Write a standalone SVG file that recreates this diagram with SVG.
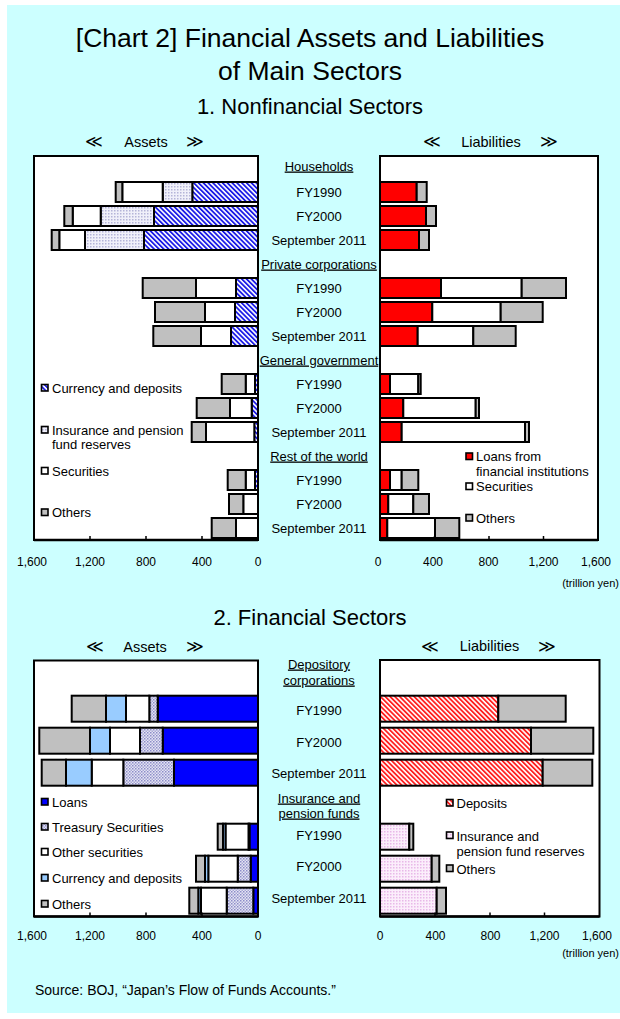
<svg xmlns="http://www.w3.org/2000/svg" width="620" height="1019" viewBox="0 0 620 1019">
<defs>
<style>
text{font-family:"Liberation Sans","DejaVu Sans",Arial,sans-serif;fill:#000}
.ttl{font-size:26.5px;text-anchor:middle}
.sec{font-size:22px;text-anchor:middle}
.ah{font-size:14.5px;text-anchor:middle}
.ch{font-size:17px;text-anchor:middle;font-family:"DejaVu Sans",sans-serif}
.lbl{font-size:13px;text-anchor:middle}
.hdr{font-size:13px;text-anchor:middle;text-decoration:underline}
.leg{font-size:13px}
.ax{font-size:12px;text-anchor:middle}
.unit{font-size:11px;text-anchor:end}
.src{font-size:14px}
.box{fill:#fff;stroke:#000;stroke-width:2}
.bars rect{stroke:#000;stroke-width:2}
.mk{stroke:#000;stroke-width:1.6}
.axis{stroke:#000;stroke-width:2.5;fill:none}
.tick{stroke:#000;stroke-width:1.5}
</style>
<pattern id="bh" patternUnits="userSpaceOnUse" width="3.4" height="3.4" patternTransform="rotate(-45)">
<rect width="3.4" height="3.4" fill="#fff"/><rect width="1.8" height="3.4" fill="#1a1ae6"/>
</pattern>
<pattern id="rh" patternUnits="userSpaceOnUse" width="3.4" height="3.4" patternTransform="rotate(-45)">
<rect width="3.4" height="3.4" fill="#fff"/><rect width="1.8" height="3.4" fill="#ff2020"/>
</pattern>
<pattern id="lav" patternUnits="userSpaceOnUse" width="3" height="3">
<rect width="3" height="3" fill="#f0f0fa"/><rect width="1.5" height="1.5" fill="#b4b4d8"/>
</pattern>
<pattern id="tre" patternUnits="userSpaceOnUse" width="3" height="3">
<rect width="3" height="3" fill="#e4e4f4"/><rect width="1.5" height="1.5" fill="#8c8cc8"/><rect x="1.5" y="1.5" width="1.5" height="1.5" fill="#a8a8d4"/>
</pattern>
<pattern id="pnk" patternUnits="userSpaceOnUse" width="3" height="3">
<rect width="3" height="3" fill="#fbeefb"/><rect width="1.5" height="1.5" fill="#e8b8e8"/>
</pattern>
</defs>

<rect x="7" y="5" width="613" height="1008" fill="#ccffff"/>

<g id="title">
<text class="ttl" x="310" y="47">[Chart 2] Financial Assets and Liabilities</text>
<text class="ttl" x="310" y="80">of Main Sectors</text>
<text class="sec" x="310" y="114">1. Nonfinancial Sectors</text>
<text class="sec" x="310" y="625">2. Financial Sectors</text>
</g>

<g id="chart1-heads">
<text class="ch" x="94" y="147">≪</text><text class="ah" x="146" y="146.5">Assets</text><text class="ch" x="195" y="147">≫</text>
<text class="ch" x="432" y="147">≪</text><text class="ah" x="491" y="146.5">Liabilities</text><text class="ch" x="549" y="147">≫</text>
</g>

<g id="chart1-assets">
<rect class="box" x="34" y="156" width="224" height="384"/>
<g class="bars">
<rect x="192.3" y="182" width="65.7" height="20" fill="url(#bh)"/>
<rect x="162.7" y="182" width="29.6" height="20" fill="url(#lav)"/>
<rect x="122.3" y="182" width="40.4" height="20" fill="#fff"/>
<rect x="115.7" y="182" width="6.6" height="20" fill="#c0c0c0"/>

<rect x="154" y="206" width="104" height="20" fill="url(#bh)"/>
<rect x="100.7" y="206" width="53.3" height="20" fill="url(#lav)"/>
<rect x="72.7" y="206" width="28" height="20" fill="#fff"/>
<rect x="64.3" y="206" width="8.4" height="20" fill="#c0c0c0"/>

<rect x="144" y="230" width="114" height="20" fill="url(#bh)"/>
<rect x="85" y="230" width="59" height="20" fill="url(#lav)"/>
<rect x="59.3" y="230" width="25.7" height="20" fill="#fff"/>
<rect x="51.7" y="230" width="7.6" height="20" fill="#c0c0c0"/>

<rect x="236" y="278" width="22" height="20" fill="url(#bh)"/>
<rect x="196" y="278" width="40" height="20" fill="#fff"/>
<rect x="142.7" y="278" width="53.3" height="20" fill="#c0c0c0"/>

<rect x="235" y="302" width="23" height="20" fill="url(#bh)"/>
<rect x="205" y="302" width="30" height="20" fill="#fff"/>
<rect x="155" y="302" width="50" height="20" fill="#c0c0c0"/>

<rect x="231" y="326" width="27" height="20" fill="url(#bh)"/>
<rect x="201" y="326" width="30" height="20" fill="#fff"/>
<rect x="153.3" y="326" width="47.7" height="20" fill="#c0c0c0"/>

<rect x="255" y="374" width="3" height="20" fill="url(#bh)"/>
<rect x="245.7" y="374" width="9.3" height="20" fill="#fff"/>
<rect x="221.7" y="374" width="24" height="20" fill="#c0c0c0"/>

<rect x="251.7" y="398" width="6.3" height="20" fill="url(#bh)"/>
<rect x="230" y="398" width="21.7" height="20" fill="#fff"/>
<rect x="196.7" y="398" width="33.3" height="20" fill="#c0c0c0"/>

<rect x="254.3" y="422" width="3.7" height="20" fill="url(#bh)"/>
<rect x="206" y="422" width="48.3" height="20" fill="#fff"/>
<rect x="191.7" y="422" width="14.3" height="20" fill="#c0c0c0"/>

<rect x="255" y="470" width="3" height="20" fill="url(#bh)"/>
<rect x="245.7" y="470" width="9.3" height="20" fill="#fff"/>
<rect x="227.7" y="470" width="18" height="20" fill="#c0c0c0"/>

<rect x="243.3" y="494" width="14.7" height="20" fill="#fff"/>
<rect x="229" y="494" width="14.3" height="20" fill="#c0c0c0"/>

<rect x="236" y="518" width="22" height="20" fill="#fff"/>
<rect x="211.7" y="518" width="24.3" height="20" fill="#c0c0c0"/>
</g>
<line class="axis" x1="34" y1="540" x2="258" y2="540"/>
<line class="tick" x1="90" y1="540" x2="90" y2="536"/>
<line class="tick" x1="146" y1="540" x2="146" y2="536"/>
<line class="tick" x1="202" y1="540" x2="202" y2="536"/>
<text class="ax" x="32" y="566">1,600</text>
<text class="ax" x="90" y="566">1,200</text>
<text class="ax" x="146" y="566">800</text>
<text class="ax" x="202" y="566">400</text>
<text class="ax" x="258" y="566">0</text>
</g>

<g id="chart1-assets-legend">
<rect class="mk" x="41.5" y="384.5" width="6.5" height="6.5" fill="url(#bh)"/>
<text class="leg" x="52" y="392.5">Currency and deposits</text>
<rect class="mk" x="41.5" y="426.5" width="6.5" height="6.5" fill="url(#lav)"/>
<text class="leg" x="52" y="434.5">Insurance and pension</text>
<text class="leg" x="52" y="449">fund reserves</text>
<rect class="mk" x="41.5" y="467.5" width="6.5" height="6.5" fill="#fff"/>
<text class="leg" x="52" y="475.5">Securities</text>
<rect class="mk" x="41.5" y="509" width="6.5" height="6.5" fill="#c0c0c0"/>
<text class="leg" x="52" y="517">Others</text>
</g>

<g id="chart1-categories">
<text class="hdr" x="319" y="170.5">Households</text>
<text class="lbl" x="319" y="196.5">FY1990</text>
<text class="lbl" x="319" y="220.5">FY2000</text>
<text class="lbl" x="319" y="244.5">September 2011</text>
<text class="hdr" x="319" y="268.5">Private corporations</text>
<text class="lbl" x="319" y="292.5">FY1990</text>
<text class="lbl" x="319" y="316.5">FY2000</text>
<text class="lbl" x="319" y="340.5">September 2011</text>
<text class="hdr" x="319" y="364.5">General government</text>
<text class="lbl" x="319" y="388.5">FY1990</text>
<text class="lbl" x="319" y="412.5">FY2000</text>
<text class="lbl" x="319" y="436.5">September 2011</text>
<text class="hdr" x="319" y="460.5">Rest of the world</text>
<text class="lbl" x="319" y="484.5">FY1990</text>
<text class="lbl" x="319" y="508.5">FY2000</text>
<text class="lbl" x="319" y="532.5">September 2011</text>
</g>

<g id="chart1-liabilities">
<rect class="box" x="380" y="156" width="218" height="384"/>
<g class="bars">
<rect x="380" y="182" width="36.7" height="20" fill="#ff0000"/>
<rect x="416.7" y="182" width="10" height="20" fill="#c0c0c0"/>
<rect x="380" y="206" width="46" height="20" fill="#ff0000"/>
<rect x="426" y="206" width="10" height="20" fill="#c0c0c0"/>
<rect x="380" y="230" width="39" height="20" fill="#ff0000"/>
<rect x="419" y="230" width="10" height="20" fill="#c0c0c0"/>

<rect x="380" y="278" width="61" height="20" fill="#ff0000"/>
<rect x="441" y="278" width="80.7" height="20" fill="#fff"/>
<rect x="521.7" y="278" width="44.3" height="20" fill="#c0c0c0"/>
<rect x="380" y="302" width="52.3" height="20" fill="#ff0000"/>
<rect x="432.3" y="302" width="68.4" height="20" fill="#fff"/>
<rect x="500.7" y="302" width="42" height="20" fill="#c0c0c0"/>
<rect x="380" y="326" width="37.7" height="20" fill="#ff0000"/>
<rect x="417.7" y="326" width="55.6" height="20" fill="#fff"/>
<rect x="473.3" y="326" width="42.4" height="20" fill="#c0c0c0"/>

<rect x="380" y="374" width="10" height="20" fill="#ff0000"/>
<rect x="390" y="374" width="28.3" height="20" fill="#fff"/>
<rect x="418.3" y="374" width="2.4" height="20" fill="#c0c0c0"/>
<rect x="380" y="398" width="23.3" height="20" fill="#ff0000"/>
<rect x="403.3" y="398" width="72.4" height="20" fill="#fff"/>
<rect x="475.7" y="398" width="3.3" height="20" fill="#c0c0c0"/>
<rect x="380" y="422" width="21.7" height="20" fill="#ff0000"/>
<rect x="401.7" y="422" width="123.3" height="20" fill="#fff"/>
<rect x="525" y="422" width="4" height="20" fill="#c0c0c0"/>

<rect x="380" y="470" width="10" height="20" fill="#ff0000"/>
<rect x="390" y="470" width="11.7" height="20" fill="#fff"/>
<rect x="401.7" y="470" width="16.6" height="20" fill="#c0c0c0"/>
<rect x="380" y="494" width="8.3" height="20" fill="#ff0000"/>
<rect x="388.3" y="494" width="25" height="20" fill="#fff"/>
<rect x="413.3" y="494" width="15.7" height="20" fill="#c0c0c0"/>
<rect x="380" y="518" width="7.3" height="20" fill="#ff0000"/>
<rect x="387.3" y="518" width="47.7" height="20" fill="#fff"/>
<rect x="435" y="518" width="24.3" height="20" fill="#c0c0c0"/>
</g>
<line class="axis" x1="380" y1="540" x2="598" y2="540"/>
<line class="tick" x1="434.5" y1="540" x2="434.5" y2="536"/>
<line class="tick" x1="489" y1="540" x2="489" y2="536"/>
<line class="tick" x1="543.5" y1="540" x2="543.5" y2="536"/>
<text class="ax" x="378" y="566">0</text>
<text class="ax" x="433" y="566">400</text>
<text class="ax" x="488.5" y="566">800</text>
<text class="ax" x="543.5" y="566">1,200</text>
<text class="ax" x="596" y="566">1,600</text>
<text class="unit" x="619" y="587">(trillion yen)</text>
</g>

<g id="chart1-liabilities-legend">
<rect class="mk" x="466" y="453" width="6.5" height="6.5" fill="#ff0000"/>
<text class="leg" x="476" y="461">Loans from</text>
<text class="leg" x="476" y="476">financial institutions</text>
<rect class="mk" x="466" y="483" width="6.5" height="6.5" fill="#fff"/>
<text class="leg" x="476" y="491">Securities</text>
<rect class="mk" x="466" y="514.5" width="6.5" height="6.5" fill="#c0c0c0"/>
<text class="leg" x="476" y="522.5">Others</text>
</g>

<g id="chart2-heads">
<text class="ch" x="95" y="652">≪</text><text class="ah" x="145" y="651.5">Assets</text><text class="ch" x="195" y="652">≫</text>
<text class="ch" x="430" y="651.5">≪</text><text class="ah" x="489.5" y="651">Liabilities</text><text class="ch" x="547" y="651.5">≫</text>
</g>

<g id="chart2-assets">
<rect class="box" x="34" y="660.5" width="224" height="256"/>
<g class="bars">
<rect x="157.7" y="695.7" width="100.3" height="26" fill="#0000ff"/>
<rect x="149.3" y="695.7" width="8.4" height="26" fill="url(#tre)"/>
<rect x="126" y="695.7" width="23.3" height="26" fill="#fff"/>
<rect x="106" y="695.7" width="20" height="26" fill="#99ccff"/>
<rect x="71.7" y="695.7" width="34.3" height="26" fill="#c0c0c0"/>

<rect x="162.7" y="727.7" width="95.3" height="26" fill="#0000ff"/>
<rect x="140" y="727.7" width="22.7" height="26" fill="url(#tre)"/>
<rect x="110" y="727.7" width="30" height="26" fill="#fff"/>
<rect x="90" y="727.7" width="20" height="26" fill="#99ccff"/>
<rect x="39.3" y="727.7" width="50.7" height="26" fill="#c0c0c0"/>

<rect x="174" y="759.7" width="84" height="26" fill="#0000ff"/>
<rect x="123.3" y="759.7" width="50.7" height="26" fill="url(#tre)"/>
<rect x="91.7" y="759.7" width="31.6" height="26" fill="#fff"/>
<rect x="66" y="759.7" width="25.7" height="26" fill="#99ccff"/>
<rect x="41.7" y="759.7" width="24.3" height="26" fill="#c0c0c0"/>

<rect x="249.5" y="823.7" width="8.5" height="26" fill="#0000ff"/>
<rect x="248.5" y="823.7" width="1" height="26" fill="url(#tre)"/>
<rect x="225.5" y="823.7" width="23" height="26" fill="#fff"/>
<rect x="223" y="823.7" width="2.5" height="26" fill="#99ccff"/>
<rect x="217.7" y="823.7" width="5.3" height="26" fill="#c0c0c0"/>

<rect x="250.7" y="855.7" width="7.3" height="26" fill="#0000ff"/>
<rect x="237.7" y="855.7" width="13" height="26" fill="url(#tre)"/>
<rect x="208.3" y="855.7" width="29.4" height="26" fill="#fff"/>
<rect x="205" y="855.7" width="3.3" height="26" fill="#99ccff"/>
<rect x="196" y="855.7" width="9" height="26" fill="#c0c0c0"/>

<rect x="253.3" y="887.7" width="4.7" height="26" fill="#0000ff"/>
<rect x="226.7" y="887.7" width="26.6" height="26" fill="url(#tre)"/>
<rect x="201" y="887.7" width="25.7" height="26" fill="#fff"/>
<rect x="198.3" y="887.7" width="2.7" height="26" fill="#99ccff"/>
<rect x="189.3" y="887.7" width="9" height="26" fill="#c0c0c0"/>
</g>
<line class="axis" x1="34" y1="916.5" x2="258" y2="916.5"/>
<line class="tick" x1="90" y1="916.5" x2="90" y2="912.5"/>
<line class="tick" x1="146" y1="916.5" x2="146" y2="912.5"/>
<line class="tick" x1="202" y1="916.5" x2="202" y2="912.5"/>
<text class="ax" x="32" y="940">1,600</text>
<text class="ax" x="90" y="940">1,200</text>
<text class="ax" x="146" y="940">800</text>
<text class="ax" x="202" y="940">400</text>
<text class="ax" x="258" y="940">0</text>
</g>

<g id="chart2-assets-legend">
<rect class="mk" x="41.5" y="798.5" width="6.5" height="6.5" fill="#0000ff"/>
<text class="leg" x="52" y="807">Loans</text>
<rect class="mk" x="41.5" y="823.5" width="6.5" height="6.5" fill="url(#tre)"/>
<text class="leg" x="52" y="832">Treasury Securities</text>
<rect class="mk" x="41.5" y="848.5" width="6.5" height="6.5" fill="#fff"/>
<text class="leg" x="52" y="857">Other securities</text>
<rect class="mk" x="41.5" y="874.5" width="6.5" height="6.5" fill="#99ccff"/>
<text class="leg" x="52" y="883">Currency and deposits</text>
<rect class="mk" x="41.5" y="900.5" width="6.5" height="6.5" fill="#c0c0c0"/>
<text class="leg" x="52" y="908.5">Others</text>
</g>

<g id="chart2-categories">
<text class="hdr" x="319" y="668.5">Depository</text>
<text class="hdr" x="319" y="684.5">corporations</text>
<text class="lbl" x="319" y="714.5">FY1990</text>
<text class="lbl" x="319" y="746.5">FY2000</text>
<text class="lbl" x="319" y="777.5">September 2011</text>
<text class="hdr" x="319" y="802.5">Insurance and</text>
<text class="hdr" x="319" y="817.5">pension funds</text>
<text class="lbl" x="319" y="839.5">FY1990</text>
<text class="lbl" x="319" y="871">FY2000</text>
<text class="lbl" x="319" y="902.5">September 2011</text>
</g>

<g id="chart2-liabilities">
<rect class="box" x="380" y="660" width="219.5" height="256.5"/>
<g class="bars">
<rect x="380" y="695.7" width="118.3" height="26" fill="url(#rh)"/>
<rect x="498.3" y="695.7" width="67.4" height="26" fill="#c0c0c0"/>
<rect x="380" y="727.7" width="151" height="26" fill="url(#rh)"/>
<rect x="531" y="727.7" width="62.3" height="26" fill="#c0c0c0"/>
<rect x="380" y="759.7" width="162.7" height="26" fill="url(#rh)"/>
<rect x="542.7" y="759.7" width="49.6" height="26" fill="#c0c0c0"/>
<rect x="380" y="823.7" width="29.3" height="26" fill="url(#pnk)"/>
<rect x="409.3" y="823.7" width="4" height="26" fill="#c0c0c0"/>
<rect x="380" y="855.7" width="51.7" height="26" fill="url(#pnk)"/>
<rect x="431.7" y="855.7" width="7.6" height="26" fill="#c0c0c0"/>
<rect x="380" y="887.7" width="56.7" height="26" fill="url(#pnk)"/>
<rect x="436.7" y="887.7" width="9.3" height="26" fill="#c0c0c0"/>
</g>
<line class="axis" x1="380" y1="916.5" x2="599.5" y2="916.5"/>
<line class="tick" x1="435" y1="916.5" x2="435" y2="912.5"/>
<line class="tick" x1="490" y1="916.5" x2="490" y2="912.5"/>
<line class="tick" x1="544.5" y1="916.5" x2="544.5" y2="912.5"/>
<text class="ax" x="380" y="940">0</text>
<text class="ax" x="435.5" y="940">400</text>
<text class="ax" x="490.5" y="940">800</text>
<text class="ax" x="544.5" y="940">1,200</text>
<text class="ax" x="597" y="940">1,600</text>
<text class="unit" x="619" y="957">(trillion yen)</text>
</g>

<g id="chart2-liabilities-legend">
<rect class="mk" x="446.5" y="799.5" width="6.5" height="6.5" fill="url(#rh)"/>
<text class="leg" x="456.5" y="808">Deposits</text>
<rect class="mk" x="446.5" y="832" width="6.5" height="6.5" fill="url(#pnk)"/>
<text class="leg" x="456.5" y="840.5">Insurance and</text>
<text class="leg" x="456.5" y="856">pension fund reserves</text>
<rect class="mk" x="446.5" y="865" width="6.5" height="6.5" fill="#c0c0c0"/>
<text class="leg" x="456.5" y="873.5">Others</text>
</g>

<g id="source">
<text class="src" x="35" y="995">Source: BOJ, “Japan’s Flow of Funds Accounts.”</text>
</g>
</svg>
